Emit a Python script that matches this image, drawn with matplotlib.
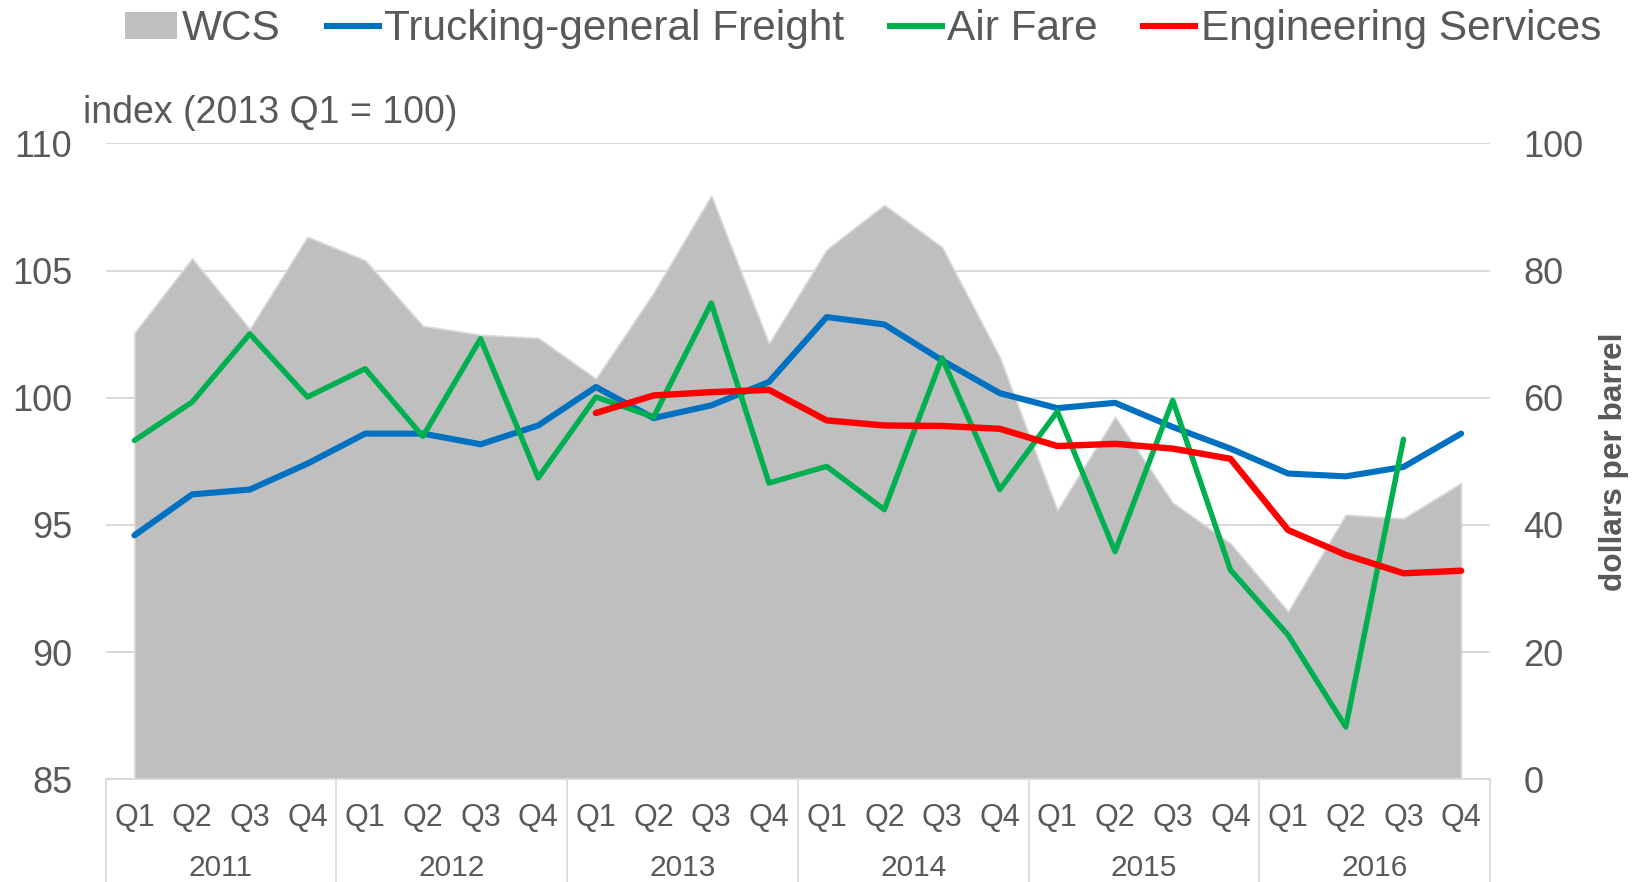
import numpy as np
import matplotlib
matplotlib.use("Agg")
import matplotlib.pyplot as plt
from matplotlib.patches import Patch
from matplotlib.lines import Line2D

plt.rcParams['font.family'] = ['Liberation Sans', 'DejaVu Sans']

# ---------------- data ----------------
years = ["2011", "2012", "2013", "2014", "2015", "2016"]
quarters = ["Q1", "Q2", "Q3", "Q4"]

wcs = [70.2, 81.9, 70.8, 85.3, 81.6, 71.3, 69.9, 69.4,
       63.0, 76.5, 91.8, 68.5, 83.3, 90.3, 83.7, 66.4,
       42.3, 57.0, 43.5, 37.1, 26.4, 41.6, 41.0, 46.6]

trucking = [94.59, 96.20, 96.39, 97.41, 98.59, 98.59, 98.17, 98.91,
            100.42, 99.20, 99.70, 100.62, 103.17, 102.88, 101.47, 100.18,
            99.59, 99.80, 98.85, 98.00, 97.02, 96.91, 97.28, 98.59]

air_fare = [98.32, 99.83, 102.51, 100.03, 101.14, 98.48, 102.32, 96.85,
            100.03, 99.24, 103.72, 96.65, 97.30, 95.60, 101.57, 96.39,
            99.46, 93.95, 99.90, 93.23, 90.67, 87.06, 98.37, np.nan]

engineering = [np.nan, np.nan, np.nan, np.nan, np.nan, np.nan, np.nan, np.nan,
               99.40, 100.09, 100.22, 100.31, 99.11, 98.91, 98.89, 98.78,
               98.10, 98.19, 98.00, 97.60, 94.80, 93.82, 93.10, 93.20]

left_ticks = [85, 90, 95, 100, 105, 110]
right_ticks = [0, 20, 40, 60, 80, 100]

# ---------------- styling ----------------
TXT = '#595959'
GRID = '#d9d9d9'
C_WCS = '#bfbfbf'
C_BLUE = '#0070C0'
C_GREEN = '#00B050'
C_RED = '#FF0000'

n = len(years) * len(quarters)
x = np.arange(n)
xlabels = quarters * len(years)

fig = plt.figure(figsize=(16.37, 8.82), dpi=100)
ax = fig.add_axes([0.0645, 0.1164, 0.8457, 0.7211])
ax2 = ax.twinx()

ax.set_zorder(2)
ax2.set_zorder(1)
ax.patch.set_visible(False)

# right axis: area + grid
ax2.set_axisbelow(True)
ax2.fill_between(x, 0, wcs, facecolor=C_WCS, edgecolor=GRID, linewidth=1.2, zorder=1)
ax2.set_ylim(0, 100)
ax2.set_yticks(right_ticks)
ax2.grid(axis='y', color=GRID, linewidth=1.4)
ax2.tick_params(axis='y', length=0, pad=24, labelsize=26, labelcolor=TXT)

# left axis: lines
lkw = dict(solid_joinstyle='round', solid_capstyle='round')
ax.plot(x, trucking, color=C_BLUE, lw=4.4, **lkw)
ax.plot(x, air_fare, color=C_GREEN, lw=3.9, **lkw)
ax.plot(x, engineering, color=C_RED, lw=4.6, **lkw)
ax.set_ylim(85, 110)
ax.set_yticks(left_ticks)
ax.tick_params(axis='y', length=0, pad=24, labelsize=26, labelcolor=TXT)

ax.set_xlim(-0.5, n - 0.5)
ax.set_xticks(x)
ax.set_xticklabels(xlabels)
ax.tick_params(axis='x', which='major', length=0, pad=17, labelsize=22, labelcolor=TXT)
ax.set_xticks(np.arange(-0.5, n, 4), minor=True)
ax.tick_params(axis='x', which='minor', length=76, width=1.2, color=GRID, direction='out')

for i, yr in enumerate(years):
    ax.text(i * 4 + 1.5, -0.1397, yr, transform=ax.get_xaxis_transform(),
            ha='center', va='center', fontsize=21.5, color=TXT)

for a in (ax, ax2):
    for s in ('top', 'left', 'right'):
        a.spines[s].set_visible(False)
ax2.spines['bottom'].set_visible(False)
ax.spines['bottom'].set_color(GRID)
ax.spines['bottom'].set_linewidth(1.4)

ax.text(-0.016, 1.048, "index (2013 Q1 = 100)", transform=ax.transAxes,
        ha='left', va='center', fontsize=27, color=TXT)

ax2.set_ylabel("dollars per barrel", fontsize=22.8, fontweight='bold', color=TXT)
ax2.yaxis.set_label_coords(1.079, 0.5)

handles = [Patch(facecolor=C_WCS, edgecolor='none'),
           Line2D([], [], color=C_BLUE, lw=4.4),
           Line2D([], [], color=C_GREEN, lw=4.4),
           Line2D([], [], color=C_RED, lw=4.4)]
labels = ["WCS", "Trucking-general Freight", "Air Fare", "Engineering Services"]
fig.legend(handles, labels, loc='center left', bbox_to_anchor=(0.0764, 0.967),
           ncol=4, frameon=False, fontsize=30.5, labelcolor=TXT,
           handlelength=1.23, handleheight=0.6, handletextpad=0.12,
           columnspacing=1.08, borderpad=0, borderaxespad=0)

fig.savefig("out.png", dpi=100)
